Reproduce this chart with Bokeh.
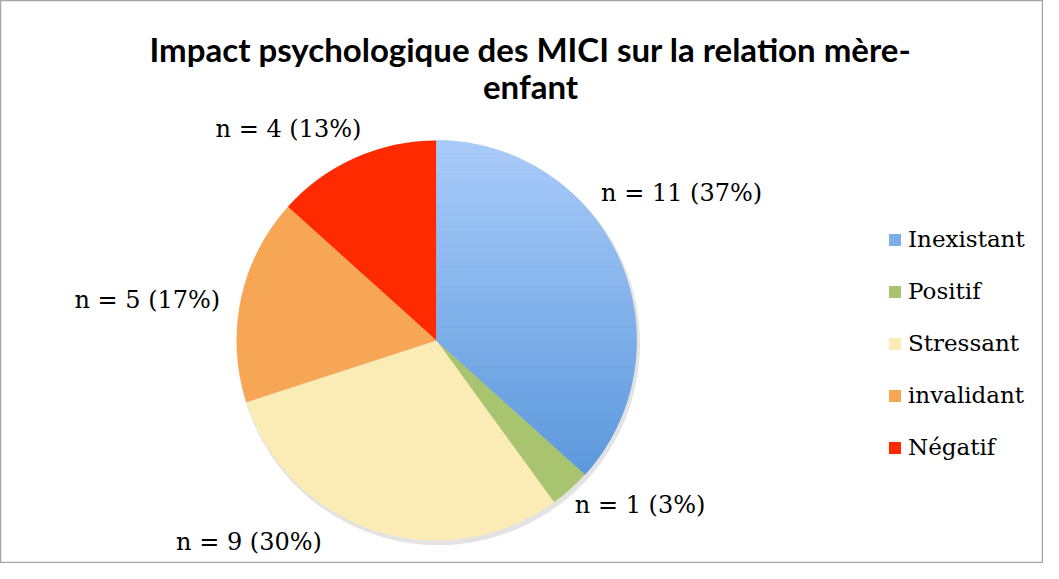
import math
from bokeh.plotting import figure
from bokeh.models import Range1d, Legend, LegendItem, ColumnDataSource
from bokeh.core.properties import value
from bokeh.embed import file_html
from bokeh.resources import INLINE

categories = ["Inexistant", "Positif", "Stressant", "invalidant", "Négatif"]
counts = [11, 1, 9, 5, 4]
percents = [37, 3, 30, 17, 13]
colors = ["#7eaee9", "#a9c46e", "#fbebb5", "#f7a656", "#ff2a00"]
grad_top, grad_bottom = (170, 204, 250), (76, 142, 214)   # gradient of first slice
title_lines = ["Impact psychologique des MICI sur la relation mère-", "enfant"]

W, H = 1043, 563
p = figure(width=W, height=H, output_backend="svg", toolbar_location=None,
           x_range=Range1d(0, W), y_range=Range1d(0, H), min_border=0)
p.xaxis.visible = False
p.yaxis.visible = False
p.grid.visible = False
p.outline_line_color = "#a6a6a6"
p.outline_line_width = 1.5
p.background_fill_color = "white"

cx, cy, R = 436, 223, 200
total = sum(counts)
starts, ends, mids = [], [], []
a = 90.0
for c in counts:
    s = a
    e = a - 360.0 * c / total
    starts.append(math.radians(s))
    ends.append(math.radians(e))
    mids.append((s + e) / 2)
    a = e

# subtle shadow
p.circle(x=[cx + 2], y=[cy - 3], radius=R + 1.5, fill_color="#b0b0b0", fill_alpha=0.35, line_color=None)

src = ColumnDataSource(dict(start=starts, end=ends, color=colors, cat=categories))
wr = p.wedge(x=cx, y=cy, radius=R, start_angle="start", end_angle="end", direction="clock",
             fill_color="color", line_color=None, source=src)

# vertical gradient on the first slice: wedge polygon clipped into horizontal bands
def clip(poly, yv, keep_above):
    out = []
    n = len(poly)
    for k in range(n):
        p1, p2 = poly[k], poly[(k + 1) % n]
        in1 = (p1[1] >= yv) if keep_above else (p1[1] <= yv)
        in2 = (p2[1] >= yv) if keep_above else (p2[1] <= yv)
        if in1:
            out.append(p1)
        if in1 != in2:
            t = (yv - p1[1]) / (p2[1] - p1[1])
            out.append((p1[0] + t * (p2[0] - p1[0]), yv))
    return out

s0, e0 = starts[0], ends[0]
arc = [(cx + R * math.cos(s0 + (e0 - s0) * k / 120), cy + R * math.sin(s0 + (e0 - s0) * k / 120)) for k in range(121)]
wpoly = [(cx, cy)] + arc
nb = 60
bxs, bys, bcols = [], [], []
for b in range(nb):
    ytop = cy + R - 2 * R * b / nb
    ybot = cy + R - 2 * R * (b + 1) / nb
    poly = clip(clip(wpoly, ybot, True), ytop, False)
    if len(poly) < 3:
        continue
    t = (b + 0.5) / nb
    col = tuple(int(round(grad_top[j] + (grad_bottom[j] - grad_top[j]) * t)) for j in range(3))
    bxs.append([q[0] for q in poly])
    bys.append([q[1] for q in poly])
    bcols.append("#%02x%02x%02x" % col)
p.patches(xs=bxs, ys=bys, fill_color=bcols, line_color=bcols, line_width=0.6)

# data labels
label_angle_adj = [7, 9, -25, 4, 11]
label_dist = [286, 262, 275, 292, 258]
lx, ly, lt = [], [], []
for i, m in enumerate(mids):
    ang = math.radians(m + label_angle_adj[i])
    lx.append(cx + label_dist[i] * math.cos(ang))
    ly.append(cy + label_dist[i] * math.sin(ang))
    lt.append(f"n = {counts[i]} ({percents[i]}%)")
p.text(x=lx, y=ly, text=lt, text_align="center", text_baseline="middle",
       text_font=value("DejaVu Serif"), text_font_size="24px", text_color="black")

# title
p.text(x=[530, 530], y=[H - 48, H - 85], text=title_lines, text_align="center", text_baseline="middle",
       text_font=value("Lato"), text_font_style="bold", text_font_size="33px", text_color="black")

items = [LegendItem(label=categories[i], renderers=[wr], index=i) for i in range(len(categories))]
legend = Legend(items=items, location=(887, 103), orientation="vertical",
                glyph_width=15, glyph_height=15, label_height=20, spacing=26,
                label_text_font="DejaVu Serif", label_text_font_size="23px",
                label_text_color="black",
                label_standoff=6, border_line_color=None, background_fill_alpha=0,
                padding=0, margin=0)
p.add_layout(legend, "center")

open("out.html", "w").write(file_html(p, INLINE))
